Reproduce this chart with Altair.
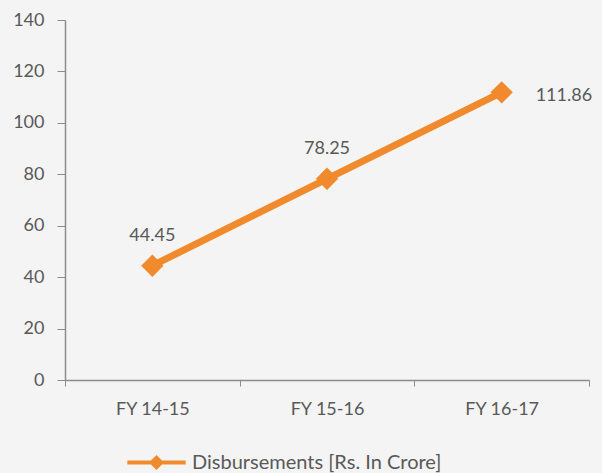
import altair as alt
import pandas as pd

categories = ["FY 14-15", "FY 15-16", "FY 16-17"]
values = [44.45, 78.25, 111.86]
series = "Disbursements [Rs. In Crore]"

df = pd.DataFrame({"year": categories, "value": values, "series": [series] * 3})
df["label"] = [f"{v:.2f}" for v in values]

FONT = "Lato"
TXT = "#595959"
ORANGE = "#F08A2C"

x = alt.X("year:N", sort=categories, title=None,
          scale=alt.Scale(paddingInner=0, paddingOuter=0),
          axis=alt.Axis(labelAngle=0, tickBand="extent", domainColor="#8c8c8c",
                        tickColor="#8c8c8c", tickSize=6, labelPadding=14,
                        labelFontSize=18, labelColor=TXT, labelFont=FONT,
                        domainWidth=1.5))
y = alt.Y("value:Q", title=None,
          scale=alt.Scale(domain=[0, 140]),
          axis=alt.Axis(values=list(range(0, 141, 20)), grid=False,
                        domainColor="#8c8c8c", tickColor="#8c8c8c", tickSize=8,
                        labelPadding=13, labelFontSize=18, labelColor=TXT,
                        labelFont=FONT, domainWidth=1.5))

color = alt.Color("series:N", scale=alt.Scale(range=[ORANGE]),
                  legend=alt.Legend(title=None, orient="none", legendX=60, legendY=411,
                                    symbolType="M-1,0L1,0M-0.16,0L0,-0.16L0.16,0L0,0.16Z",
                                    symbolSize=3400, symbolStrokeWidth=4,
                                    symbolStrokeColor=ORANGE, symbolFillColor=ORANGE,
                                    labelFontSize=20, labelColor=TXT, labelFont=FONT,
                                    labelOffset=4, labelLimit=0))

base = alt.Chart(df)
line = base.mark_line(strokeWidth=7).encode(x=x, y=y, color=color)
pts = base.mark_point(shape="diamond", size=500, filled=True, opacity=1).encode(
    x=x, y=y, color=alt.Color("series:N", scale=alt.Scale(range=[ORANGE]), legend=None))
lab1 = base.transform_filter(alt.datum.year != "FY 16-17").mark_text(
    dy=-30, fontSize=18, color=TXT, font=FONT).encode(x=x, y=y, text="label:N")
lab2 = base.transform_filter(alt.datum.year == "FY 16-17").mark_text(
    dx=34, dy=4, align="left", fontSize=18, color=TXT, font=FONT).encode(x=x, y=y, text="label:N")

chart = alt.layer(line, pts, lab1, lab2).properties(
    width=524, height=360, background="#f4f4f4",
    padding={"left": 65, "top": 20, "right": 13, "bottom": 93},
    autosize=alt.AutoSizeParams(type="none")
).configure_view(stroke=None)

chart.save("out.html", embed_options={"renderer": "svg", "actions": False})
